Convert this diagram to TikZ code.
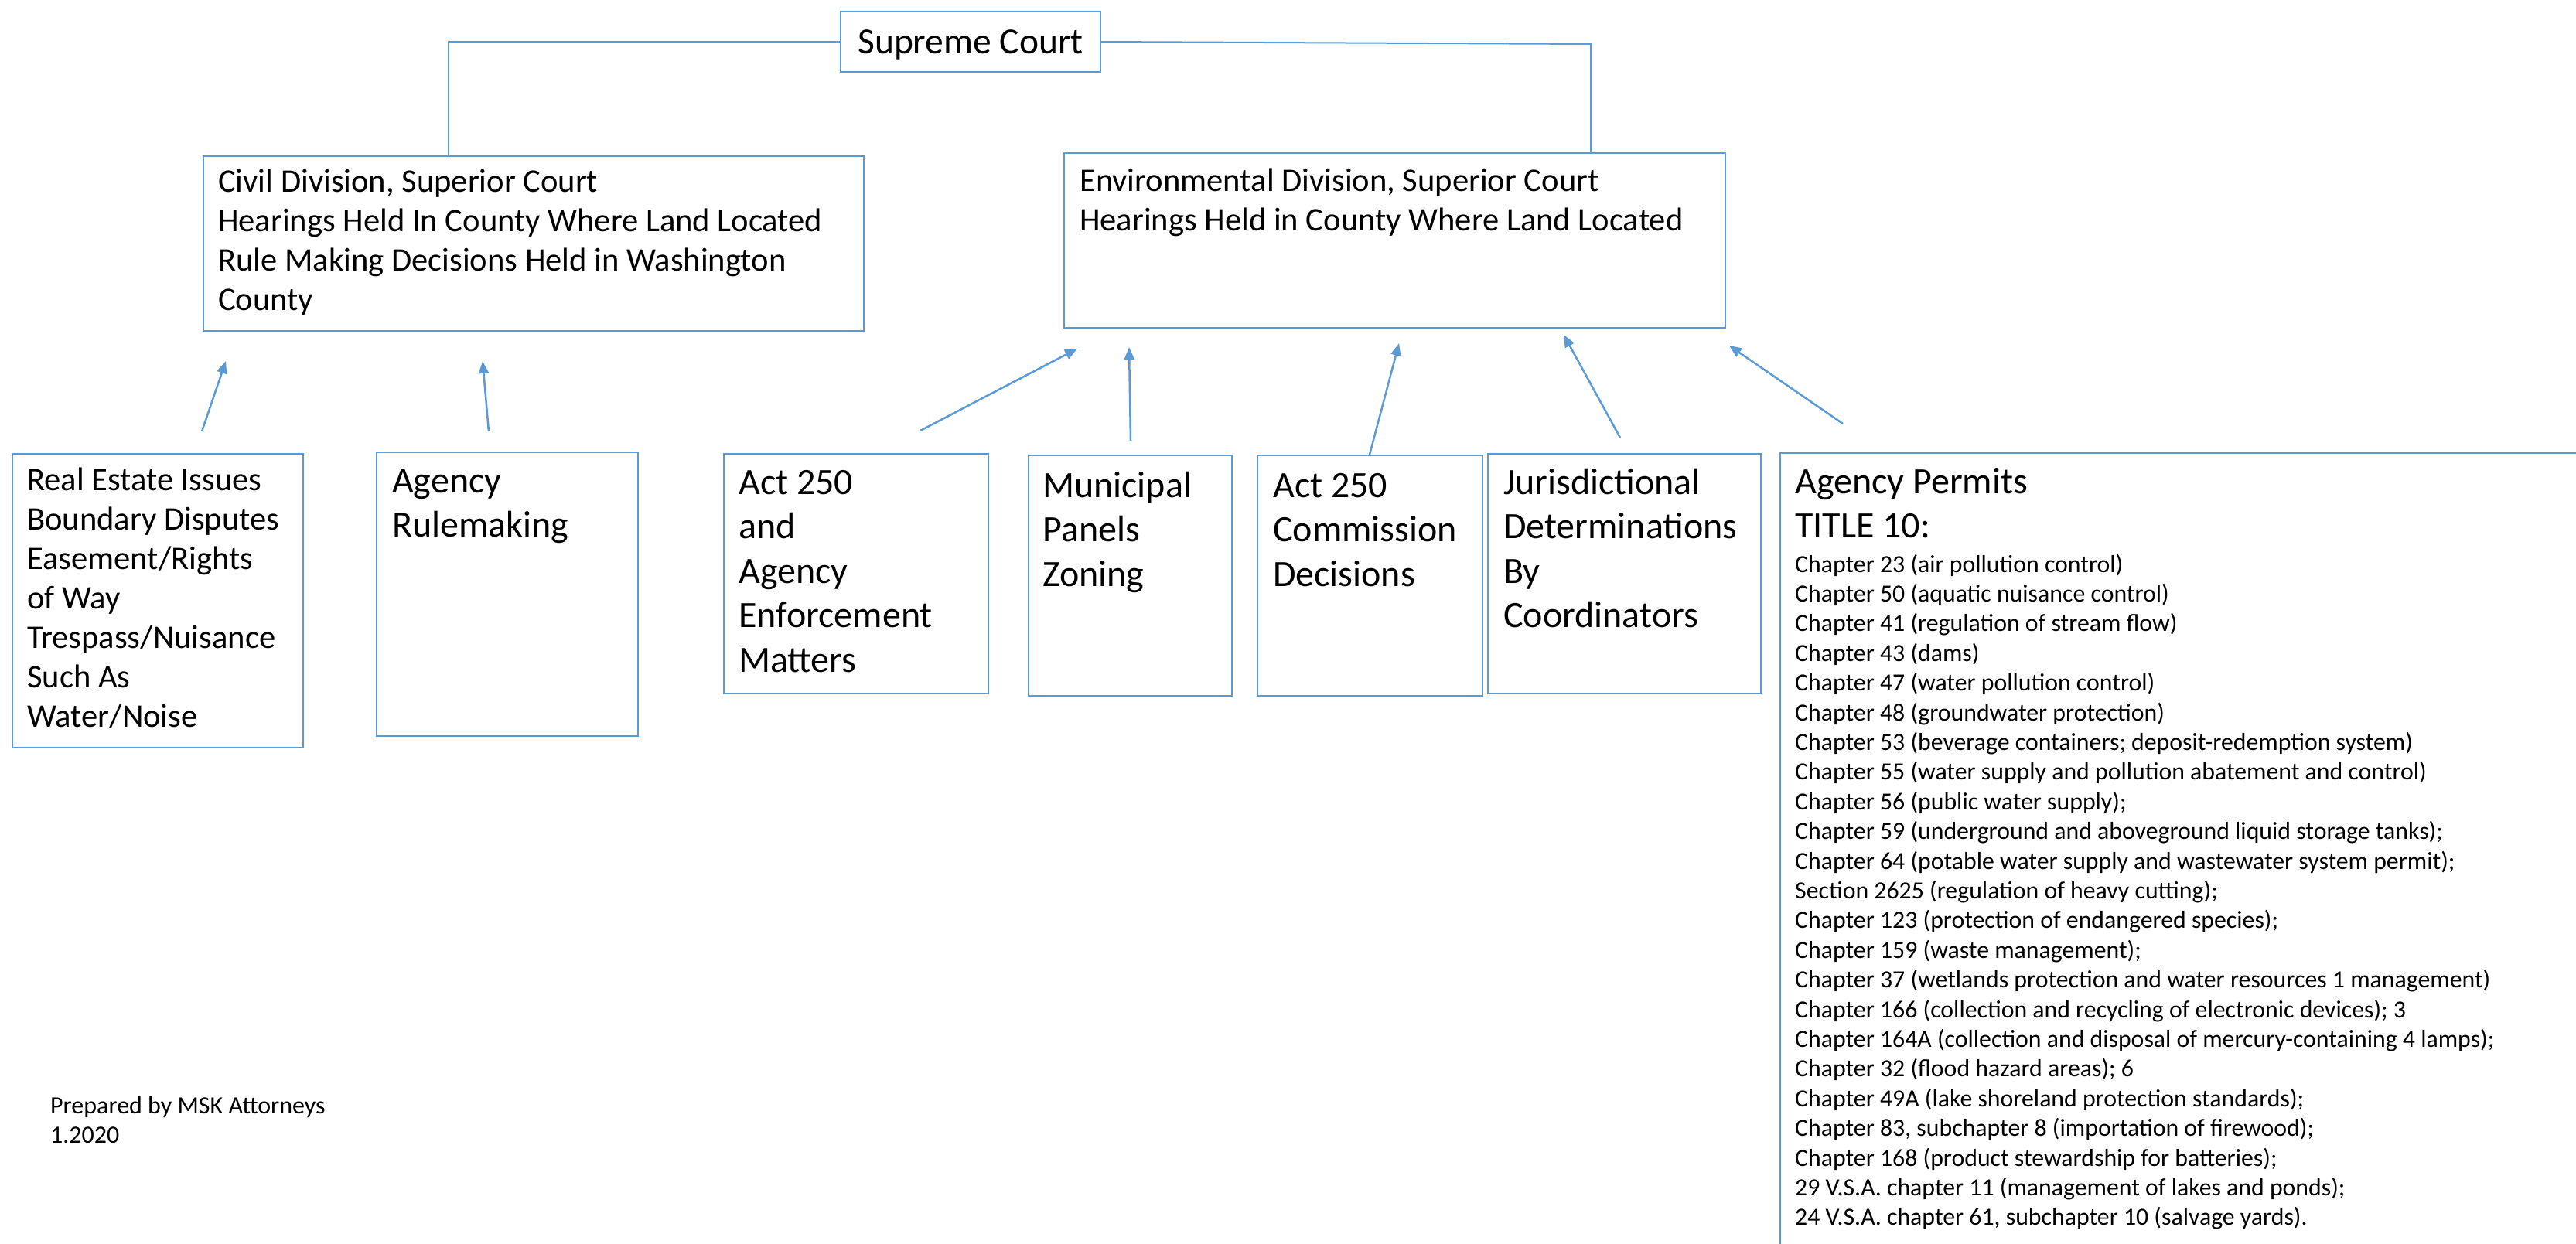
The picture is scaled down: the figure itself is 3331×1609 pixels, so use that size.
\documentclass[tikz,border=0pt]{standalone}
\usepackage{fontspec}
\setmainfont{Carlito}
\usetikzlibrary{arrows.meta}
\definecolor{ob}{HTML}{5B9BD5}
\newcommand{\mylines}[1]{\begin{tabular}[t]{@{}l@{}}#1\end{tabular}}
\newcommand{\fzSup}{\fontsize{47.5}{58}\selectfont}
\newcommand{\fzDiv}{\fontsize{42.6}{51}\selectfont}
\newcommand{\fzRow}{\fontsize{48}{57.5}\selectfont}
\newcommand{\fzChap}{\fontsize{31.8}{38.4}\selectfont}
\newcommand{\fzNote}{\fontsize{32}{38}\selectfont}
\begin{document}
\begin{tikzpicture}[x=1pt,y=-1pt,
  box/.style={draw=ob, line width=2pt, rectangle, inner sep=0pt, anchor=north west},
  txt/.style={anchor=base west, inner sep=0pt},
  link/.style={draw=ob, line width=2pt},
  arr/.style={draw=ob, line width=2.5pt, -{Triangle[length=16pt,width=13pt]}}]
\useasboundingbox (0,0) rectangle (3331,1609);
\clip (0,0) rectangle (3331,1609);
\fill[white] (0,0) rectangle (3331,1609);

% top
\node[box, minimum width=336pt, minimum height=78pt, text height=30pt, text depth=0pt, font=\fzSup] (sup) at (1086,14) {Supreme Court};

% divisions
\node[box, minimum width=854pt, minimum height=226pt] (civ) at (262,201) {};
\node[box, minimum width=855pt, minimum height=226pt] (env) at (1375,197) {};
\node[txt, font=\fzDiv] (civT) at (282,248) {\mylines{Civil Division, Superior Court\\Hearings Held In County Where Land Located\\Rule Making Decisions Held in Washington\\County}};
\node[txt, font=\fzDiv] (envT) at (1396,247) {\mylines{Environmental Division, Superior Court\\Hearings Held in County Where Land Located}};

% links from Supreme Court
\coordinate (envc) at (2057,57);
\draw[link] (sup.west) -| ([xshift=318pt]civ.north west);
\draw[link] (sup.east) -- (envc) -- (envc |- env.north);

% lower boxes
\node[box, minimum width=376pt, minimum height=380pt] (re) at (15,586) {};
\node[box, minimum width=338pt, minimum height=367pt] (rm) at (486,584) {};
\node[box, minimum width=342pt, minimum height=310pt] (enf) at (935,586) {};
\node[box, minimum width=263pt, minimum height=311pt] (mun) at (1329,588) {};
\node[box, minimum width=291pt, minimum height=311pt] (com) at (1625,588) {};
\node[box, minimum width=353pt, minimum height=310pt] (jur) at (1923,586) {};
\node[box, minimum width=1300pt, minimum height=1300pt] (ap) at (2301,585) {};

\node[txt, font=\fzDiv] (reT) at (35,634) {\mylines{Real Estate Issues\\Boundary Disputes\\Easement/Rights\\of Way\\Trespass/Nuisance\\Such As\\Water/Noise}};
\node[txt, font=\fzRow] (rmT) at (507,637) {\mylines{Agency\\Rulemaking}};
\node[txt, font=\fzRow] (enfT) at (955,639) {\mylines{Act 250\\and\\Agency\\Enforcement\\Matters}};
\node[txt, font=\fzRow] (munT) at (1348,643) {\mylines{Municipal\\Panels\\Zoning}};
\node[txt, font=\fzRow] (comT) at (1646,643) {\mylines{Act 250\\Commission\\Decisions}};
\node[txt, font=\fzRow] (jurT) at (1944,639) {\mylines{Jurisdictional\\Determinations\\By\\Coordinators}};
\node[txt, font=\fzRow] (apT) at (2321,638) {\mylines{Agency Permits\\TITLE 10:}};
\node[txt, font=\fzChap] (apL) at (2321,740) {\mylines{Chapter 23 (air pollution control)\\
Chapter 50 (aquatic nuisance control)\\
Chapter 41 (regulation of stream flow)\\
Chapter 43 (dams)\\
Chapter 47 (water pollution control)\\
Chapter 48 (groundwater protection)\\
Chapter 53 (beverage containers; deposit-redemption system)\\
Chapter 55 (water supply and pollution abatement and control)\\
Chapter 56 (public water supply);\\
Chapter 59 (underground and aboveground liquid storage tanks);\\
Chapter 64 (potable water supply and wastewater system permit);\\
Section 2625 (regulation of heavy cutting);\\
Chapter 123 (protection of endangered species);\\
Chapter 159 (waste management);\\
Chapter 37 (wetlands protection and water resources 1 management)\\
Chapter 166 (collection and recycling of electronic devices); 3\\
Chapter 164A (collection and disposal of mercury-containing 4 lamps);\\
Chapter 32 (flood hazard areas); 6\\
Chapter 49A (lake shoreland protection standards);\\
Chapter 83, subchapter 8 (importation of firewood);\\
Chapter 168 (product stewardship for batteries);\\
29 V.S.A. chapter 11 (management of lakes and ponds);\\
24 V.S.A. chapter 61, subchapter 10 (salvage yards).}};

\node[txt, font=\fzNote] (note) at (65,1440) {\mylines{Prepared by MSK Attorneys\\1.2020}};

% arrows
\coordinate (t1) at (261,558);  \coordinate (h1) at (292,467);
\coordinate (t2) at (632,558);  \coordinate (h2) at (624,467);
\coordinate (t3) at (1190,557); \coordinate (h3) at (1393,451);
\coordinate (t4) at (1462,570); \coordinate (h4) at (1460,449);
\coordinate (t5) at ([xshift=146pt]com.north west); \coordinate (h5) at (1809,444);
\coordinate (t6) at (2095,566); \coordinate (h6) at (2022,433);
\coordinate (t7) at (2383,548); \coordinate (h7) at (2236,447);
\foreach \i in {1,...,7} {\draw[arr] (t\i) -- (h\i);}
\end{tikzpicture}
\end{document}
